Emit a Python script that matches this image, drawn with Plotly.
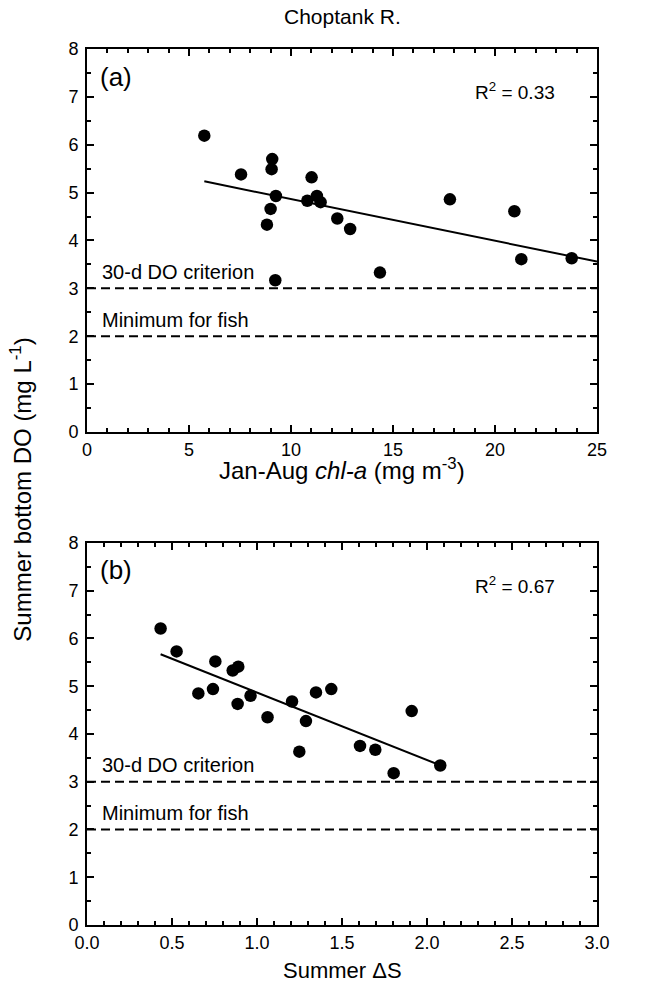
import numpy as np
import plotly.graph_objects as go

# Panel (a): Jan-Aug chl-a vs summer bottom DO
chl_a = [5.75, 7.55, 9.08, 9.05, 9.26, 9.00, 8.82, 9.23, 11.01, 10.80,
         11.27, 11.45, 12.27, 12.90, 14.36, 17.79, 20.95, 21.29, 23.76]
do_a = [6.19, 5.38, 5.70, 5.49, 4.93, 4.66, 4.33, 3.17, 5.32, 4.83,
        4.93, 4.80, 4.46, 4.24, 3.33, 4.86, 4.61, 3.61, 3.63]

# Panel (b): Summer delta S vs summer bottom DO
delta_s = [0.433, 0.527, 0.755, 0.857, 0.890, 0.655, 0.741, 0.886, 0.962, 1.062,
           1.206, 1.288, 1.249, 1.347, 1.437, 1.606, 1.696, 1.804, 1.910, 2.078]
do_b = [6.21, 5.73, 5.52, 5.33, 5.41, 4.85, 4.94, 4.63, 4.80, 4.35,
        4.68, 4.27, 3.63, 4.87, 4.94, 3.75, 3.67, 3.18, 4.48, 3.34]

x_range_a = [0, 25]
x_range_b = [0, 3]
y_range = [0, 8]
criterion_levels = [3, 2]
criterion_labels = ["30-d DO criterion", "Minimum for fish"]
r2_labels = ["R<sup>2</sup> = 0.33", "R<sup>2</sup> = 0.67"]
panel_labels = ["(a)", "(b)"]

FONT = "Liberation Sans, Arial, sans-serif"

fig = go.Figure()

# scatter points
fig.add_trace(go.Scatter(x=chl_a, y=do_a, mode="markers",
                         marker=dict(color="black", size=12.5),
                         xaxis="x", yaxis="y", showlegend=False))
fig.add_trace(go.Scatter(x=delta_s, y=do_b, mode="markers",
                         marker=dict(color="black", size=12.5),
                         xaxis="x2", yaxis="y2", showlegend=False))

# regression lines
ma, ba = np.polyfit(chl_a, do_a, 1)
xa = np.array([min(chl_a), x_range_a[1]])
fig.add_trace(go.Scatter(x=xa, y=ma * xa + ba, mode="lines",
                         line=dict(color="black", width=2),
                         xaxis="x", yaxis="y", showlegend=False))
mb, bb = np.polyfit(delta_s, do_b, 1)
xb = np.array([min(delta_s), max(delta_s)])
fig.add_trace(go.Scatter(x=xb, y=mb * xb + bb, mode="lines",
                         line=dict(color="black", width=2),
                         xaxis="x2", yaxis="y2", showlegend=False))

# dashed criterion lines and labels
for xr, yr in [("x", "y"), ("x2", "y2")]:
    for lvl, lab in zip(criterion_levels, criterion_labels):
        fig.add_shape(type="line", xref=f"{xr} domain", yref=yr,
                      x0=0, x1=1, y0=lvl, y1=lvl,
                      line=dict(color="black", width=2, dash="9px,5px"))
        fig.add_annotation(text=lab, xref=f"{xr} domain", yref=yr,
                           x=0.025, y=lvl + 0.07, xanchor="left", yanchor="bottom",
                           showarrow=False, font=dict(size=20, color="black", family=FONT))

for (xr, yr), pl, r2 in zip([("x", "y"), ("x2", "y2")], panel_labels, r2_labels):
    fig.add_annotation(text=pl, xref=f"{xr} domain", yref=f"{yr} domain",
                       x=0.022, y=0.928, xanchor="left", yanchor="middle",
                       showarrow=False, font=dict(size=26, color="black", family=FONT))
    fig.add_annotation(text=r2, xref=f"{xr} domain", yref=f"{yr} domain",
                       x=0.84, y=0.89, xanchor="center", yanchor="middle",
                       showarrow=False, font=dict(size=19, color="black", family=FONT))

axis_common = dict(
    showline=True, linecolor="black", linewidth=2, mirror="allticks",
    ticks="inside", ticklen=7, tickwidth=1.5, tickcolor="black",
    showgrid=False, zeroline=False,
    tickfont=dict(size=18, color="black", family=FONT),
)
minor_common = dict(ticks="inside", ticklen=4, tickwidth=1.5, tickcolor="black")

fig.update_layout(
    width=650, height=992,
    margin=dict(l=79, r=61, t=41, b=75),
    paper_bgcolor="white", plot_bgcolor="white",
    font=dict(family=FONT, color="black"),
    xaxis=dict(axis_common, range=x_range_a, tickvals=[0, 5, 10, 15, 20, 25],
               minor=dict(minor_common, dtick=1),
               domain=[0, 1], anchor="y", automargin=False),
    yaxis=dict(axis_common, range=y_range, dtick=1,
               minor=dict(minor_common, dtick=0.5),
               domain=[0.5628, 1.0], anchor="x", ticklabelstandoff=3, automargin=False),
    xaxis2=dict(axis_common, range=x_range_b, dtick=0.5, tickformat=".1f",
                minor=dict(minor_common, dtick=0.1),
                domain=[0, 1], anchor="y2", automargin=False),
    yaxis2=dict(axis_common, range=y_range, dtick=1,
                minor=dict(minor_common, dtick=0.5),
                domain=[0, 0.4361], anchor="x2", ticklabelstandoff=3, automargin=False),
)

# titles
fig.add_annotation(text="Choptank R.", xref="paper", yref="paper", x=0.5, y=1.037,
                   xanchor="center", yanchor="middle", showarrow=False,
                   font=dict(size=21, color="black", family=FONT))
fig.add_annotation(text="Jan-Aug <i>chl-a</i> (mg m<sup>-3</sup>)", xref="paper", yref="paper",
                   x=0.5, y=0.5205, xanchor="center", yanchor="middle", showarrow=False,
                   font=dict(size=24, color="black", family=FONT))
fig.add_annotation(text="Summer \u0394S", xref="paper", yref="paper",
                   x=0.5, y=-0.0514, xanchor="center", yanchor="middle", showarrow=False,
                   font=dict(size=22, color="black", family=FONT))
fig.add_annotation(text="Summer bottom DO (mg L<sup>-1</sup>)", xref="paper", yref="paper",
                   x=-0.13, y=0.4966, xanchor="center", yanchor="middle", textangle=-90,
                   showarrow=False, font=dict(size=24, color="black", family=FONT))

fig.write_html("out.html")
